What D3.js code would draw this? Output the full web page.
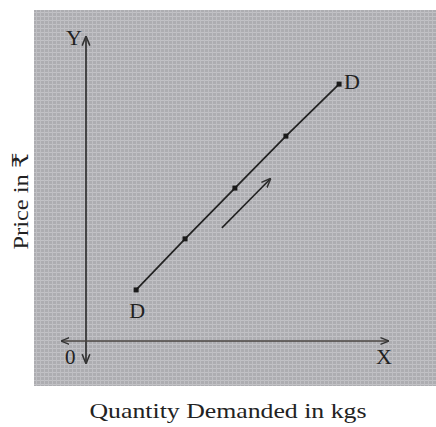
<!DOCTYPE html>
<html>
<head>
<meta charset="utf-8">
<script src="https://cdn.jsdelivr.net/npm/d3@7"></script>
<style>
  body { margin: 0; background: #fff; }
  text { font-family: "Liberation Serif", "DejaVu Serif", serif; fill: #222; }
</style>
</head>
<body>
<div id="chart"></div>
<script>
// points on the DD line (quantity, price) in plot units
const quantity = [1.66, 3.28, 4.93, 6.62, 8.38];
const price = [1.68, 3.36, 5.03, 6.74, 8.45];
// direction arrow next to the line
const arrowQ = [4.5, 6.1];
const arrowP = [3.72, 5.33];
const axisLabels = ["Y", "0", "X"];
const curveLabels = ["D", "D"];

let width = 436, height = 427;

const x = d3.scaleLinear().domain([0, 10]).range([86, 388]);
const y = d3.scaleLinear().domain([0, 10]).range([341, 37]);

const svg = d3.select("#chart")
    .append("svg")
    .attr("width", width)
    .attr("height", height);

const defs = svg.append("defs");

// grainy scanned look for the grey panel
const pat = defs.append("pattern")
    .attr("id", "grain")
    .attr("width", 4).attr("height", 4)
    .attr("patternUnits", "userSpaceOnUse");
pat.append("rect").attr("width", 4).attr("height", 4).attr("fill", "#adadb1");
pat.append("rect").attr("width", 4).attr("height", 1).attr("fill", "#c2c2c6");
pat.append("rect").attr("width", 1).attr("height", 4).attr("fill", "#bebec2");

defs.append("marker")
    .attr("id", "head")
    .attr("viewBox", "0 0 10 10")
    .attr("refX", 9).attr("refY", 5)
    .attr("markerWidth", 6).attr("markerHeight", 6)
    .attr("orient", "auto-start-reverse")
    .append("path")
    .attr("d", "M0,1 L10,5 L0,9")
    .attr("fill", "none")
    .attr("stroke", "#333")
    .attr("stroke-width", 1.6);

svg.append("rect")
    .attr("x", 34).attr("y", 10)
    .attr("width", width - 34).attr("height", 376)
    .attr("fill", "url(#grain)");

// axes
svg.append("line")
    .attr("x1", x(0)).attr("x2", x(0))
    .attr("y1", y(-0.72)).attr("y2", y(10))
    .attr("stroke", "#2a2a2a").attr("stroke-width", 1.6)
    .attr("marker-start", "url(#head)")
    .attr("marker-end", "url(#head)");

svg.append("line")
    .attr("x1", x(-0.8)).attr("x2", x(10))
    .attr("y1", y(0)).attr("y2", y(0))
    .attr("stroke", "#4a4440").attr("stroke-width", 1.4)
    .attr("marker-start", "url(#head)")
    .attr("marker-end", "url(#head)");

svg.append("text").attr("x", x(0) - 20).attr("y", 45)
    .attr("font-size", 22).text(axisLabels[0]);
svg.append("text").attr("x", x(0) - 21).attr("y", 364)
    .attr("font-size", 21).text(axisLabels[1]);
svg.append("text").attr("x", 376).attr("y", 364)
    .attr("font-size", 22).text(axisLabels[2]);

// DD line
const pts = quantity.map((q, i) => [q, price[i]]);

svg.append("path")
    .attr("d", d3.line().x(d => x(d[0])).y(d => y(d[1]))(pts))
    .attr("fill", "none")
    .attr("stroke", "#222")
    .attr("stroke-width", 1.7);

svg.append("g")
    .selectAll("rect")
    .data(pts)
    .enter().append("rect")
    .attr("x", d => x(d[0]) - 2.5)
    .attr("y", d => y(d[1]) - 2.5)
    .attr("width", 5).attr("height", 5)
    .attr("fill", "#1a1a1a");

svg.append("text")
    .attr("x", x(quantity[0]) - 7).attr("y", y(price[0]) + 28)
    .attr("font-size", 22).text(curveLabels[0]);
svg.append("text")
    .attr("x", x(quantity[4]) + 5).attr("y", y(price[4]) + 5)
    .attr("font-size", 22).text(curveLabels[1]);

// direction arrow
svg.append("line")
    .attr("x1", x(arrowQ[0])).attr("y1", y(arrowP[0]))
    .attr("x2", x(arrowQ[1])).attr("y2", y(arrowP[1]))
    .attr("stroke", "#222").attr("stroke-width", 1.6)
    .attr("marker-end", "url(#head)");

// titles
svg.append("text")
    .attr("x", 228).attr("y", 418)
    .attr("text-anchor", "middle")
    .attr("font-size", 22)
    .attr("textLength", 277)
    .attr("lengthAdjust", "spacingAndGlyphs")
    .text("Quantity Demanded in kgs");

svg.append("text")
    .attr("transform", "translate(28,201) rotate(-90)")
    .attr("text-anchor", "middle")
    .attr("font-size", 22)
    .attr("textLength", 97)
    .attr("lengthAdjust", "spacingAndGlyphs")
    .text("Price in ₹");
</script>
</body>
</html>
